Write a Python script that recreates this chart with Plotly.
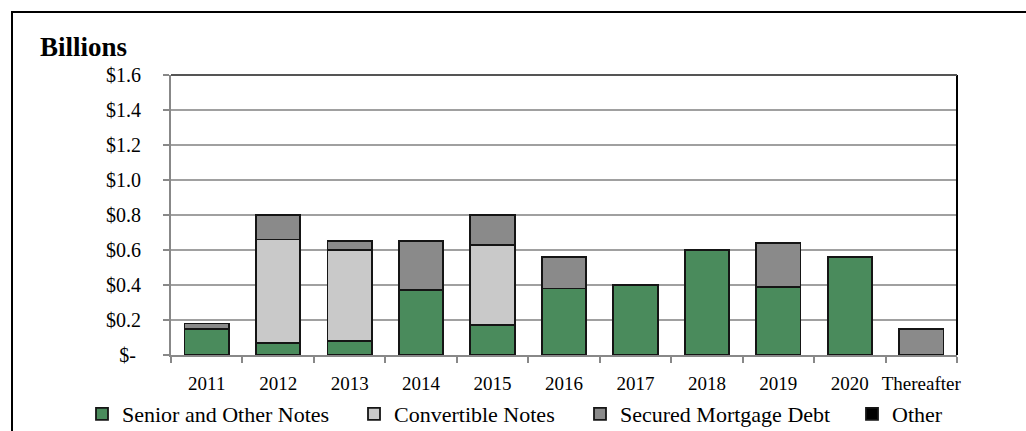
import plotly.graph_objects as go

categories = ["2011", "2012", "2013", "2014", "2015", "2016", "2017", "2018", "2019", "2020", "Thereafter"]
senior = [0.15, 0.07, 0.08, 0.37, 0.17, 0.38, 0.40, 0.60, 0.39, 0.56, 0.0]
convertible = [0.0, 0.59, 0.52, 0.0, 0.46, 0.0, 0.0, 0.0, 0.0, 0.0, 0.0]
secured = [0.03, 0.14, 0.05, 0.28, 0.17, 0.18, 0.0, 0.0, 0.25, 0.0, 0.15]
other = [0.0] * 11

y_tickvals = [0, 0.2, 0.4, 0.6, 0.8, 1.0, 1.2, 1.4, 1.6]
y_ticktext = ["$-\u00a0", "$0.2", "$0.4", "$0.6", "$0.8", "$1.0", "$1.2", "$1.4", "$1.6"]

W, H = 1026, 431
L, R, T, B = 171, 69, 75, 76
pw, ph = W - L - R, H - T - B


def px_x(px):
    return (px - L) / pw


def px_y(py):
    return (H - B - py) / ph


FONT = "Liberation Serif, Times New Roman, serif"
line = dict(color="#151515", width=1.8)

series = [
    ("Senior and Other Notes", senior, "#4a8b5c", "legend"),
    ("Convertible Notes", convertible, "#c9c9c9", "legend2"),
    ("Secured Mortgage Debt", secured, "#8a8a8a", "legend3"),
    ("Other", other, "#000000", "legend4"),
]

fig = go.Figure()
for name, vals, color, lg in series:
    fig.add_trace(go.Bar(x=categories, y=vals, name=name,
                         marker=dict(color=color, line=line), legend=lg))

legend_common = dict(orientation="h", xanchor="left", yanchor="middle",
                     y=px_y(414), font=dict(family=FONT, size=22, color="#000"),
                     bgcolor="rgba(0,0,0,0)", borderwidth=0,
                     itemclick=False, itemdoubleclick=False)

fig.update_layout(
    width=W, height=H,
    margin=dict(l=L, r=R, t=T, b=B, pad=0, autoexpand=False),
    paper_bgcolor="white", plot_bgcolor="white",
    barmode="stack", bargap=0.38,
    font=dict(family=FONT, size=19, color="#000"),
    showlegend=True,
    legend=dict(x=px_x(82), **legend_common),
    legend2=dict(x=px_x(354), **legend_common),
    legend3=dict(x=px_x(580), **legend_common),
    legend4=dict(x=px_x(852), **legend_common),
    xaxis=dict(type="category", tickson="boundaries", ticks="outside", ticklen=6,
               tickcolor="#888", tickwidth=2, showline=True, linecolor="#888", linewidth=2,
               showgrid=False, tickangle=0, automargin=False,
               tickfont=dict(family=FONT, size=19, color="#000"),
               ticklabelstandoff=10),
    yaxis=dict(range=[0, 1.6], tickvals=y_tickvals, ticktext=y_ticktext,
               ticks="outside", ticklen=6, tickcolor="#888", tickwidth=2,
               showline=True, linecolor="#888", linewidth=2, automargin=False,
               showgrid=True, gridcolor="#a0a0a0", gridwidth=1.5,
               zeroline=False, tickfont=dict(family=FONT, size=20, color="#000"),
               ticklabelstandoff=18),
    annotations=[dict(text="<b>Billions</b>", xref="paper", yref="paper",
                      x=px_x(38), y=px_y(47), xanchor="left", yanchor="middle",
                      showarrow=False, font=dict(family=FONT, size=27, color="#000"))],
    shapes=[
        dict(type="line", xref="paper", yref="paper", x0=1, x1=1, y0=0, y1=1,
             line=dict(color="#000", width=2)),
        dict(type="line", xref="paper", yref="paper", x0=0, x1=1, y0=1, y1=1,
             line=dict(color="#555", width=2)),
        dict(type="line", xref="paper", yref="paper", x0=px_x(12), x1=px_x(12),
             y0=px_y(12), y1=px_y(440), line=dict(color="#000", width=2)),
        dict(type="line", xref="paper", yref="paper", x0=px_x(11), x1=px_x(1030),
             y0=px_y(12), y1=px_y(12), line=dict(color="#000", width=2)),
    ],
)

fig.write_html("out.html")
